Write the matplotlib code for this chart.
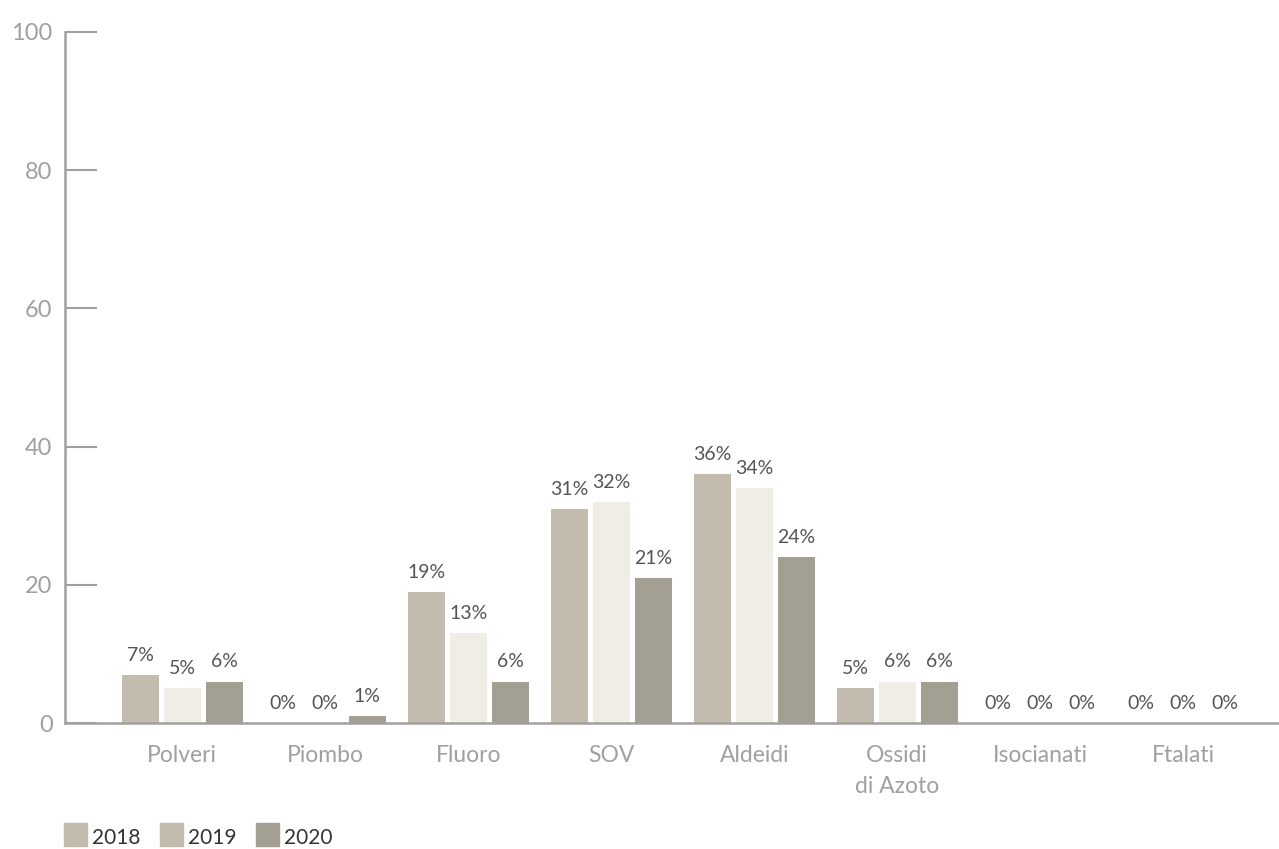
import numpy as np
import matplotlib.pyplot as plt

# data
categories = ['Polveri', 'Piombo', 'Fluoro', 'SOV', 'Aldeidi', 'Ossidi\ndi Azoto', 'Isocianati', 'Ftalati']
years = ['2018', '2019', '2020']
v2018 = [7, 0, 19, 31, 36, 5, 0, 0]
v2019 = [5, 0, 13, 32, 34, 6, 0, 0]
v2020 = [6, 1, 6, 21, 24, 6, 0, 0]

bar_colors = ['#c4bbaf', '#f0ede6', '#a39f93']
legend_colors = ['#c4bbaf', '#c4bbaf', '#a39f93']
axis_col = '#a0a0a0'
label_col = '#555555'

plt.rcParams['font.family'] = ['Lato', 'DejaVu Sans']

fig = plt.figure(figsize=(12.79, 8.49), dpi=100)
ax = fig.add_axes([65/1279, 126/849, 1 - 65/1279, 691/849])

x = np.arange(len(categories))
w = 0.26
step = 0.294
for i, vals in enumerate([v2018, v2019, v2020]):
    pos = x + (i - 1) * step
    ax.bar(pos, vals, width=w, color=bar_colors[i], zorder=2)
    for p, v in zip(pos, vals):
        ax.text(p, v + 1.6, f'{v}%', ha='center', va='bottom',
                fontsize=14, color=label_col)

ax.set_xlim(-0.82, 7.67)
ax.set_ylim(0, 100)
ax.set_yticks([0, 20, 40, 60, 80, 100])
ax.set_xticks(x)
ax.set_xticklabels(categories, fontsize=16.5, color=axis_col, linespacing=1.55)
ax.tick_params(axis='x', length=0, pad=16)
ax.tick_params(axis='y', direction='in', length=23, width=1.5, color=axis_col,
               labelsize=17, labelcolor=axis_col, pad=9)
for lbl in ax.get_yticklabels():
    lbl.set_clip_on(False)

for s in ['top', 'right']:
    ax.spines[s].set_visible(False)
for s in ['left', 'bottom']:
    ax.spines[s].set_color(axis_col)
    ax.spines[s].set_linewidth(1.8)
ax.spines['bottom'].set_zorder(3)

# legend drawn in figure coords
lx = [64, 160, 256]
for i, yr in enumerate(years):
    fig.patches.append(plt.Rectangle((lx[i]/1279, 3/849), 23/1279, 23/849,
                                     transform=fig.transFigure, color=legend_colors[i]))
    fig.text((lx[i] + 28)/1279, 11/849, yr, fontsize=15, color='#333333',
             va='center', ha='left')

fig.savefig('out.png', dpi=100)
